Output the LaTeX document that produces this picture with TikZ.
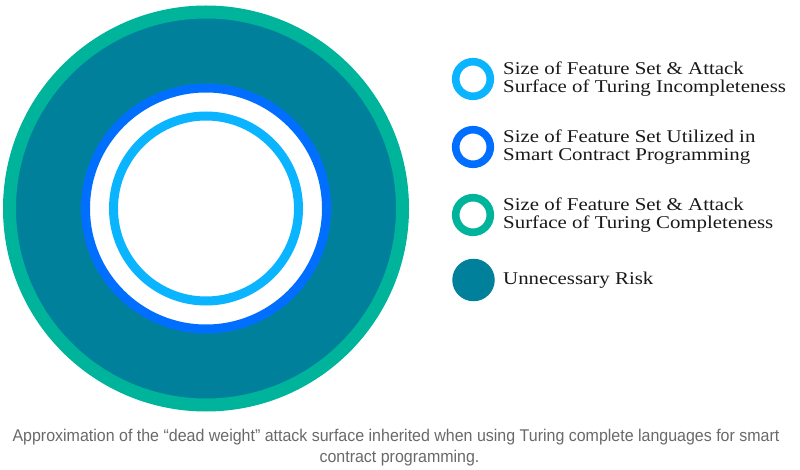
\documentclass[tikz,border=0pt]{standalone}
\usepackage{fontspec}
\setmainfont{Liberation Serif}
\newfontfamily\legfont[FakeStretch=1.16]{Liberation Serif}
\newfontfamily\capfont[FakeStretch=0.94]{Liberation Sans}
\definecolor{ringgreen}{RGB}{0,180,155}
\definecolor{riskteal}{RGB}{0,128,155}
\definecolor{ringblue}{RGB}{0,110,255}
\definecolor{ringlight}{RGB}{10,180,255}
\definecolor{capgray}{RGB}{105,105,105}
\tikzset{
  legtext/.style={anchor=base west, inner sep=0pt, align=left, font=\legfont\fontsize{18}{18}\selectfont, text=black!90},
  legring/.style={circle, minimum size=34.6pt, inner sep=0pt, line width=7.6pt, fill=white},
  captext/.style={inner sep=0pt, anchor=base, font=\capfont\fontsize{17}{17}\selectfont, text=capgray}
}
\begin{document}
\begin{tikzpicture}[x=1pt,y=-1pt]
\useasboundingbox (0,0) rectangle (800,470);
% main diagram
\fill[riskteal] (206,208.5) circle (196.5);
\draw[ringgreen, line width=13pt] (206,208.5) circle (196.5);
\draw[ringblue, line width=9pt, fill=white] (206,208.5) circle (120.5);
\draw[ringlight, line width=9pt] (206,208.5) circle (92.5);
% legend
\node[legring, draw=ringlight] (l1) at (473,79) {};
\node[legring, draw=ringblue] (l2) at (473,147) {};
\node[legring, draw=ringgreen] (l3) at (473,215) {};
\node[circle, minimum size=42.5pt, inner sep=0pt, fill=riskteal] (l4) at (473.5,280) {};
\node[legtext] (t1) at (503,92.3) {Size of Feature Set \& Attack\\Surface of Turing Incompleteness};
\node[legtext] (t2) at (503,160.3) {Size of Feature Set Utilized in\\Smart Contract Programming};
\node[legtext] (t3) at (503,228.3) {Size of Feature Set \& Attack\\Surface of Turing Completeness};
\node[legtext] (t4) at (503,284.5) {Unnecessary Risk};
% caption
\node[captext] (c1) at (396,441.5) {Approximation of the “dead weight” attack surface inherited when using Turing complete languages for smart};
\node[captext] (c2) at (399.5,462.3) {contract programming.};
\end{tikzpicture}
\end{document}
